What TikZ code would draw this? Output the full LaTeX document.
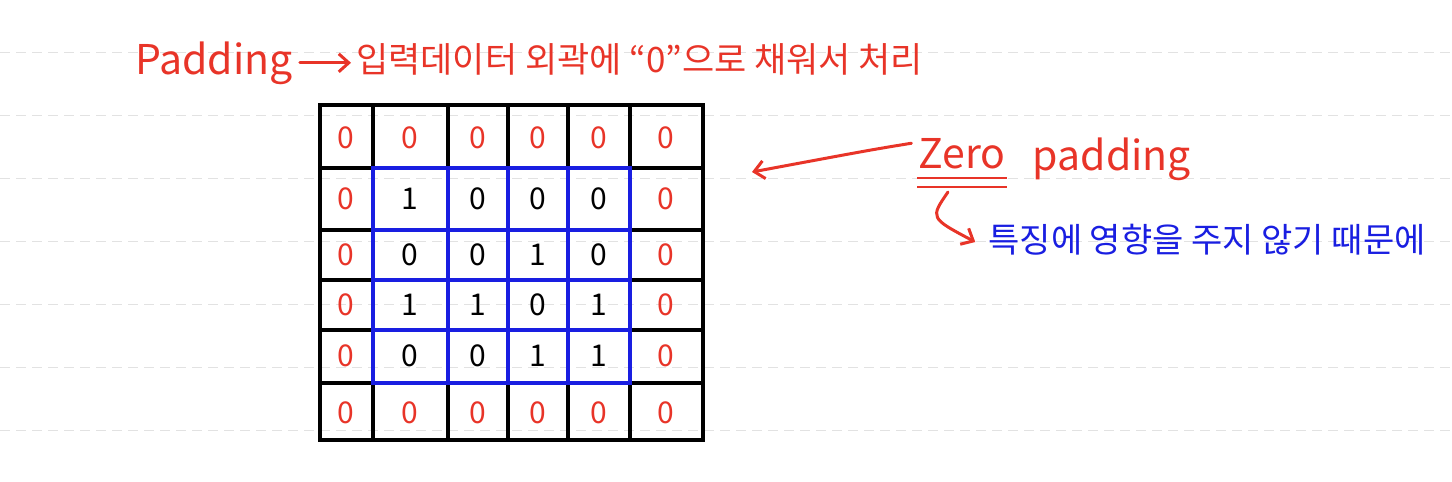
\documentclass[tikz,border=0pt]{standalone}
\usepackage{fontspec}
\newfontfamily\krfont{Noto Sans CJK KR}
\usetikzlibrary{arrows.meta}
\definecolor{penred}{RGB}{232,52,40}
\definecolor{penblue}{RGB}{25,30,225}
\definecolor{ruleline}{RGB}{226,226,226}

\begin{document}
\begin{tikzpicture}[x=1pt,y=-1pt,
    ink/.style={line width=3.2pt,line cap=round},
    bluegrid/.style={ink,draw=penblue},
    pad/.style={text=penred,font=\krfont\fontsize{30}{30}\selectfont},
    val/.style={text=black,font=\krfont\fontsize{30}{30}\selectfont},
    redtext/.style={text=penred,font=\krfont\fontsize{35}{35}\selectfont,inner sep=1pt},
    bigred/.style={text=penred,font=\krfont\fontsize{41}{41}\selectfont,inner sep=1pt,anchor=base},
    bluetext/.style={text=penblue,font=\krfont\fontsize{34}{34}\selectfont,inner sep=1pt},
    redarrow/.style={draw=penred,line width=3pt,line cap=round,-{Straight Barb[length=10pt,width=18pt,line width=3pt]}}]
        \useasboundingbox (0,0) rectangle (1452,482);
        %ruled note paper
        \foreach \y in {52,115,178,241,304,367,430}
            \draw[ruleline,line width=1pt,dash pattern=on 10pt off 6pt] (0,\y) -- (1452,\y);

        %draw the padded border cells
        \draw[ink] (320,105) rectangle (703,440);
        \draw[ink] (320,168) -- (703,168);
        \draw[ink] (320,383) -- (703,383);
        \foreach \x in {373,448,508,568,630} {
            \draw[ink] (\x,105) -- (\x,168);
            \draw[ink] (\x,383) -- (\x,440);
        }
        \foreach \y in {230,280,330} {
            \draw[ink] (320,\y) -- (373,\y);
            \draw[ink] (630,\y) -- (703,\y);
        }

        %draw the input data grid
        \draw[bluegrid] (373,168) rectangle (630,383);
        \foreach \x in {448,508,568} \draw[bluegrid] (\x,168) -- (\x,383);
        \foreach \y in {230,280,330} \draw[bluegrid] (373,\y) -- (630,\y);

        %zeros around the input
        \foreach \x [count=\i] in {346,410,478,538,599,666} {
            \node[pad] (top\i) at (\x,138) {0};
            \node[pad] (bottom\i) at (\x,413) {0};
        }
        \foreach \y [count=\i] in {199,255,305,356} {
            \node[pad] (left\i) at (346,\y) {0};
            \node[pad] (right\i) at (666,\y) {0};
        }

        %input values
        \foreach \y/\a/\b/\c/\d [count=\j] in {199/1/0/0/0, 255/0/0/1/0, 305/1/1/0/1, 356/0/0/1/1} {
            \node[val] (in\j-1) at (410,\y) {\a};
            \node[val] (in\j-2) at (478,\y) {\b};
            \node[val] (in\j-3) at (538,\y) {\c};
            \node[val] (in\j-4) at (599,\y) {\d};
        }

        %title line
        \node[bigred] (padword) at (214,74) {Padding};
        \node[redtext,anchor=base west] (padnote) at (355,72) {입력데이터 외곽에 “0”으로 채워서 처리};
        \draw[redarrow,shorten <=6pt,shorten >=4pt] (padword.east) -- (padword.east -| padnote.west);

        %zero padding note
        \node[bigred] (zero) at (962,168) {Zero};
        \node[bigred] (padding) at (1112,170) {padding};
        \draw[penred,line width=2.6pt] ([yshift=-10pt]zero.base west) -- ([yshift=-10pt]zero.base east);
        \draw[penred,line width=2.6pt] ([yshift=-19pt]zero.base west) -- ([yshift=-19pt]zero.base east);
        \coordinate (gridside) at (752,172);
        \draw[redarrow] ([xshift=-6pt,yshift=10pt]zero.west) .. controls (870,150) .. (gridside);

        %reason
        \node[bluetext] (reason) at (1207,240) {특징에 영향을 주지 않기 때문에};
        \draw[redarrow] ([xshift=-14pt,yshift=-24pt]zero.base) .. controls (930,218) .. ([xshift=-12pt,yshift=-2pt]reason.west);
\end{tikzpicture}
\end{document}
